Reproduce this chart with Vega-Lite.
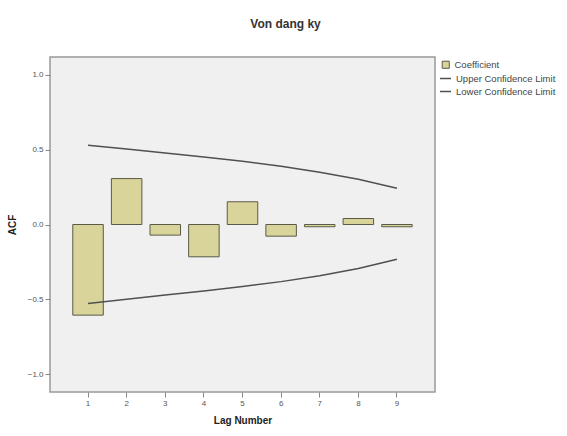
{
  "$schema": "https://vega.github.io/schema/vega-lite/v6.json",
  "width": 385,
  "height": 335,
  "autosize": {"type": "none"},
  "padding": {"left": 50, "top": 57, "right": 132, "bottom": 44},
  "background": "white",
  "title": {"text": "Von dang ky", "font": "Liberation Sans", "fontSize": 12, "fontWeight": "bold", "color": "#333333", "anchor": "middle", "dx": 43, "offset": 26},
  "config": {
    "view": {"fill": "#f0f0f0", "stroke": "#999999", "strokeWidth": 1.5},
    "font": "Liberation Sans",
    "legend": {"title": null, "padding": 0, "rowPadding": 2, "labelFontSize": 9.5, "labelColor": "#444444", "labelLimit": 300, "labelOffset": 4}
  },
  "data": {"values": [
    {"lag": "1", "acf": -0.606, "upper": 0.530, "lower": -0.528},
    {"lag": "2", "acf": 0.307, "upper": 0.505, "lower": -0.500},
    {"lag": "3", "acf": -0.071, "upper": 0.478, "lower": -0.472},
    {"lag": "4", "acf": -0.216, "upper": 0.452, "lower": -0.445},
    {"lag": "5", "acf": 0.152, "upper": 0.423, "lower": -0.415},
    {"lag": "6", "acf": -0.078, "upper": 0.390, "lower": -0.382},
    {"lag": "7", "acf": -0.015, "upper": 0.350, "lower": -0.342},
    {"lag": "8", "acf": 0.040, "upper": 0.302, "lower": -0.294},
    {"lag": "9", "acf": -0.015, "upper": 0.242, "lower": -0.232}
  ]},
  "encoding": {
    "x": {
      "field": "lag", "type": "ordinal",
      "scale": {"paddingInner": 0.21, "paddingOuter": 0.59},
      "axis": {"title": "Lag Number", "titleFontSize": 10, "titleFontWeight": "bold", "titleColor": "#222222", "titlePadding": 8,
               "labelAngle": 0, "labelFontSize": 8, "labelColor": "#555555", "tickColor": "#888888", "tickSize": 5, "domain": false}
    }
  },
  "layer": [
    {
      "mark": {"type": "bar", "stroke": "#5a5a48", "strokeWidth": 1},
      "encoding": {
        "y": {"field": "acf", "type": "quantitative",
              "scale": {"domain": [-1.12, 1.12], "nice": false, "zero": false},
              "axis": {"title": "ACF", "titleFontSize": 10, "titleFontWeight": "bold", "titleColor": "#222222", "titlePadding": 10,
                       "values": [-1, -0.5, 0, 0.5, 1], "format": ".1f", "grid": false, "domain": false,
                       "labelFontSize": 8, "labelColor": "#555555", "tickColor": "#888888", "tickSize": 5, "labelPadding": 2}},
        "fill": {"datum": "Coefficient", "type": "nominal",
                 "scale": {"domain": ["Coefficient"], "range": ["#d9d49a"]},
                 "legend": {"orient": "none", "legendX": 391, "legendY": 3, "symbolType": "square", "symbolSize": 50, "symbolStrokeColor": "#5a5a48", "symbolStrokeWidth": 1}}
      }
    },
    {
      "mark": {"type": "rule", "color": "#333333", "strokeWidth": 1.2},
      "encoding": {"y": {"datum": 0}}
    },
    {
      "mark": {"type": "line", "strokeWidth": 1.5},
      "encoding": {
        "y": {"field": "upper", "type": "quantitative"},
        "stroke": {"datum": "Upper Confidence Limit", "type": "nominal",
                   "scale": {"domain": ["Upper Confidence Limit", "Lower Confidence Limit"], "range": ["#505050", "#505050"]},
                   "legend": {"orient": "none", "legendX": 389, "legendY": 15, "symbolType": "stroke", "symbolSize": 120, "symbolStrokeWidth": 1.5}}
      }
    },
    {
      "mark": {"type": "line", "strokeWidth": 1.5},
      "encoding": {
        "y": {"field": "lower", "type": "quantitative"},
        "stroke": {"datum": "Lower Confidence Limit", "type": "nominal"}
      }
    }
  ]
}
